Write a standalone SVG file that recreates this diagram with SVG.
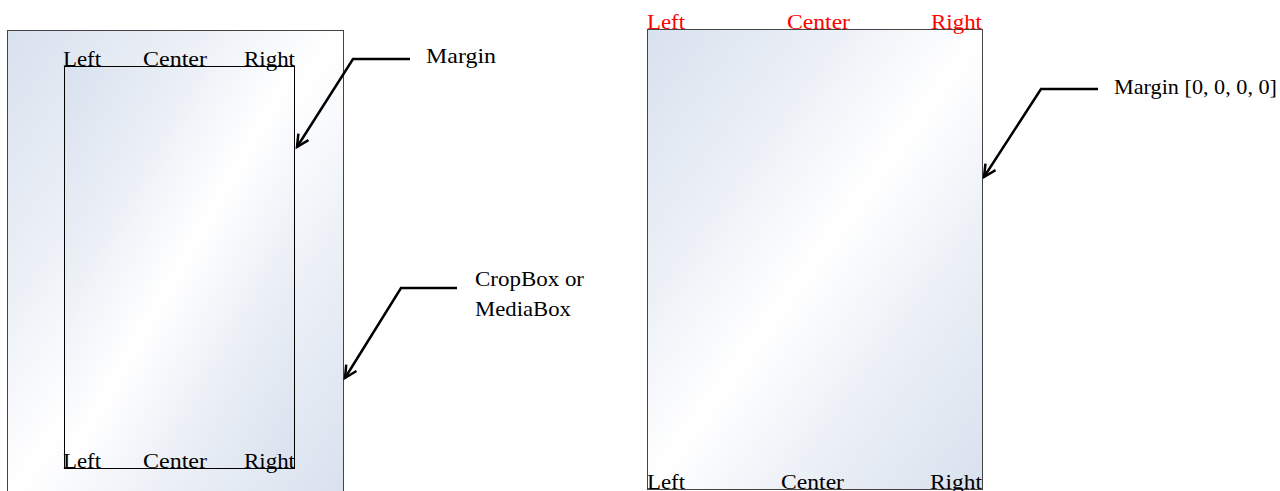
<svg xmlns="http://www.w3.org/2000/svg" width="1280" height="491" viewBox="0 0 1280 491">
<style>
.t{font-family:"Liberation Serif","Times New Roman",serif;font-size:22px;fill:#000}
.r{fill:#ff0000}
.c{fill:none;stroke:#000;stroke-width:2.5;stroke-linejoin:miter}
.page{fill:url(#g);stroke:#444;stroke-width:1}
.inner{fill:url(#g);stroke:#000;stroke-width:1}
</style>
<defs>
<linearGradient id="g" x1="0" y1="0" x2="1" y2="1">
<stop offset="0" stop-color="#d8e1ee"/>
<stop offset="0.3" stop-color="#edf1f7"/>
<stop offset="0.5" stop-color="#ffffff"/>
<stop offset="0.7" stop-color="#edf1f7"/>
<stop offset="1" stop-color="#d8e1ee"/>
</linearGradient>
<marker id="a" markerWidth="16" markerHeight="16" refX="13" refY="8" orient="auto" markerUnits="userSpaceOnUse">
<path d="M1,2 L13,8 L1,14" fill="none" stroke="#000" stroke-width="2.5"/>
</marker>
</defs>
<g id="left-page">
<rect class="page" x="7.5" y="30.5" width="336" height="470"/>
<rect class="inner" x="64.5" y="66.5" width="230" height="402"/>
<text class="t" x="63" y="66" textLength="38" lengthAdjust="spacingAndGlyphs">Left</text>
<text class="t" x="143" y="66" textLength="64" lengthAdjust="spacingAndGlyphs">Center</text>
<text class="t" x="244" y="66" textLength="51" lengthAdjust="spacingAndGlyphs">Right</text>
<text class="t" x="63" y="468" textLength="38" lengthAdjust="spacingAndGlyphs">Left</text>
<text class="t" x="143" y="468" textLength="64" lengthAdjust="spacingAndGlyphs">Center</text>
<text class="t" x="244" y="468" textLength="51" lengthAdjust="spacingAndGlyphs">Right</text>
</g>
<g id="right-page">
<rect class="page" x="647.5" y="29.5" width="335" height="460"/>
<text class="t r" x="647" y="29" textLength="38" lengthAdjust="spacingAndGlyphs">Left</text>
<text class="t r" x="787" y="29" textLength="63" lengthAdjust="spacingAndGlyphs">Center</text>
<text class="t r" x="931" y="29" textLength="51" lengthAdjust="spacingAndGlyphs">Right</text>
<text class="t" x="647" y="489" textLength="38" lengthAdjust="spacingAndGlyphs">Left</text>
<text class="t" x="781" y="489" textLength="63" lengthAdjust="spacingAndGlyphs">Center</text>
<text class="t" x="930" y="489" textLength="52" lengthAdjust="spacingAndGlyphs">Right</text>
</g>
<g id="label-margin">
<text class="t" x="426" y="63" textLength="70" lengthAdjust="spacingAndGlyphs">Margin</text>
</g>
<g id="label-cropbox">
<text class="t" x="475" y="286" textLength="109" lengthAdjust="spacingAndGlyphs">CropBox or</text>
<text class="t" x="475" y="316" textLength="96" lengthAdjust="spacingAndGlyphs">MediaBox</text>
</g>
<g id="label-margin0">
<text class="t" x="1114" y="94" textLength="163" lengthAdjust="spacingAndGlyphs">Margin [0, 0, 0, 0]</text>
</g>
<g id="connectors">
<polyline class="c" points="410,59 353,59 297,147" marker-end="url(#a)"/>
<polyline class="c" points="457,288 401,288 345,378" marker-end="url(#a)"/>
<polyline class="c" points="1098,89 1041,89 984,177" marker-end="url(#a)"/>
</g>
</svg>
